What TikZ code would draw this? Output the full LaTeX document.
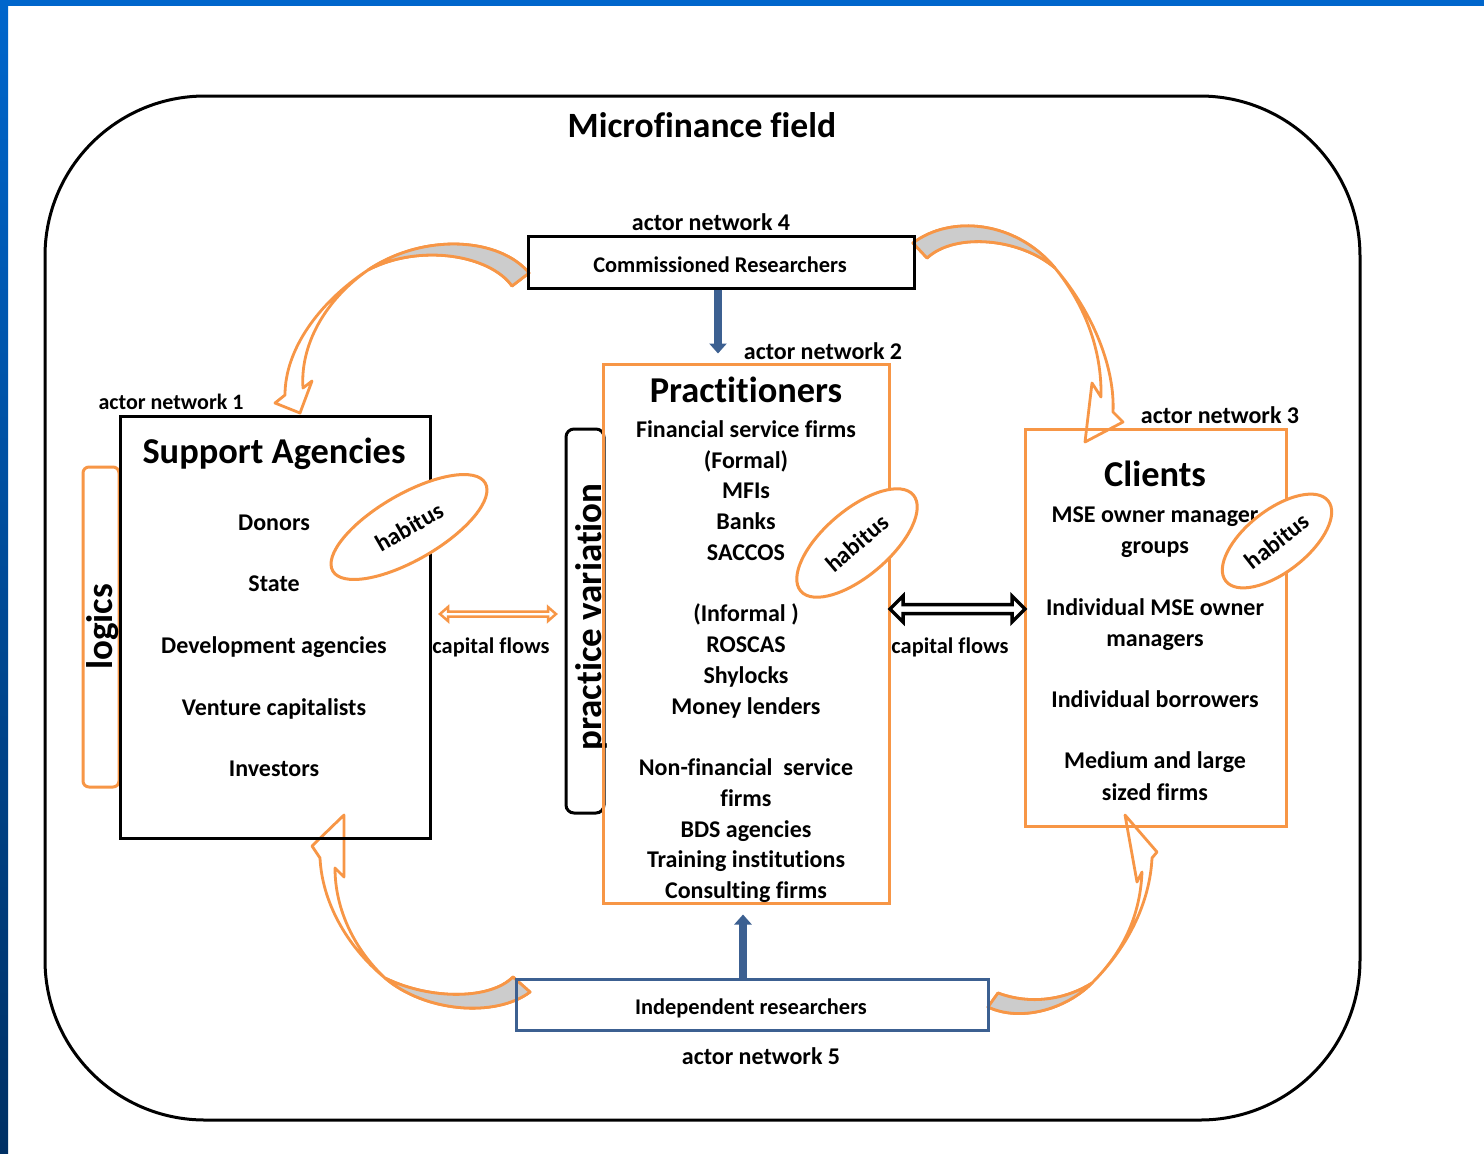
\documentclass[tikz,border=0pt]{standalone}
\usepackage{fontspec}
\setmainfont{Carlito}[Ligatures=NoCommon]
\usetikzlibrary{shapes.geometric,arrows.meta}
\definecolor{orng}{RGB}{247,150,70}
\definecolor{steel}{RGB}{60,96,145}
\definecolor{slideblue}{RGB}{0,102,204}
\definecolor{slidedark}{RGB}{0,48,100}
\definecolor{ribbon}{RGB}{204,204,204}
\begin{document}
\begin{tikzpicture}[x=0.5pt,y=-0.5pt,
  fix/.style={inner sep=0pt, text height=0.8em, text depth=0pt},
  hd/.style={fix, font=\bfseries\fontsize{18.2}{20}\selectfont},
  bd/.style={fix, font=\bfseries\fontsize{12}{14}\selectfont},
  an/.style={fix, font=\bfseries\fontsize{12}{14}\selectfont},
  sm/.style={fix, font=\bfseries\fontsize{11.2}{13}\selectfont},
  vert/.style={inner sep=0pt, rotate=90, font=\bfseries\fontsize{18.5}{20}\selectfont},
  boxk/.style={draw=black, line width=1.5pt, inner sep=0pt},
  boxo/.style={draw=orng, line width=1.5pt, inner sep=0pt},
  hab/.style={ellipse, draw=orng, fill=white, line width=1.5pt, inner sep=1pt, font=\bfseries\fontsize{12}{14}\selectfont},
  cva/.style={fill=white, draw=orng, line width=1.4pt, line join=round},
  cvg/.style={fill=ribbon, draw=orng, line width=1.4pt, line join=round},
  bluearr/.style={draw=steel, line width=3.6pt, -{Triangle[width=8.5pt,length=5pt]}}]
\useasboundingbox (0,0) rectangle (1484,1153);
\fill[white] (0,0) rectangle (1484,1153);
\fill[slideblue] (0,0) rectangle (1484,6);
\shade[top color=slideblue, bottom color=slidedark] (0,0) rectangle (8,1153);

% field frame
\draw[line width=1.5pt, rounded corners=80pt] (45,96) rectangle (1360,1120);
\node[fix, font=\bfseries\fontsize{17.8}{20}\selectfont] (title) at (702,129) {Microfinance field};

% curved arrows
\path[cva] (512,286) -- (529,273) .. controls (500,238) and (425,232) .. (368,270) .. controls (318,303) and (285,350) .. (285,395) -- (275,403) -- (300,413) -- (312,381) -- (303,388) .. controls (300,345) and (325,300) .. (368,270) .. controls (420,243) and (490,255) .. (512,286) -- cycle;
\path[cvg] (529,273) .. controls (500,238) and (425,232) .. (368,270) .. controls (420,243) and (490,255) .. (512,286) -- cycle;

\path[cva] (913,243) .. controls (950,215) and (1015,220) .. (1055,268) .. controls (1095,315) and (1115,370) .. (1113,412) -- (1123,422) -- (1085,442) -- (1092,383) -- (1101,397) .. controls (1102,350) and (1085,305) .. (1055,268) .. controls (1020,238) and (955,232) .. (927,258) -- cycle;
\path[cvg] (913,243) .. controls (950,215) and (1015,220) .. (1055,268) .. controls (1020,238) and (955,232) .. (927,258) -- cycle;

\path[cva] (530,992) .. controls (495,1018) and (425,1012) .. (385,978) .. controls (345,945) and (322,900) .. (320,858) -- (312,846) -- (344,815) -- (344,877) -- (335,868) .. controls (335,910) and (355,950) .. (385,978) .. controls (430,1000) and (490,1000) .. (513,977) -- cycle;
\path[cvg] (530,992) .. controls (495,1018) and (425,1012) .. (385,978) .. controls (430,1000) and (490,1000) .. (513,977) -- cycle;

\path[cva] (988,1007) .. controls (1020,1022) and (1065,1010) .. (1092,983) .. controls (1130,945) and (1150,900) .. (1152,858) -- (1157,852) -- (1125,815) -- (1137,882) -- (1142,872) .. controls (1140,920) and (1120,955) .. (1092,983) .. controls (1065,1000) and (1030,1005) .. (998,993) -- cycle;
\path[cvg] (988,1007) .. controls (1020,1022) and (1065,1010) .. (1092,983) .. controls (1065,1000) and (1030,1005) .. (998,993) -- cycle;

% researcher boxes
\node[boxk, minimum width=193pt, minimum height=26pt] (cr) at (721,262) {};
\node[sm] (crt) at (720,264) {Commissioned Researchers};
\node[an] (an4) at (711,222) {actor network 4};
\node[draw=steel, line width=1.5pt, inner sep=0pt, minimum width=236pt, minimum height=25.5pt] (ir) at (752.5,1004.5) {};
\node[sm] (irt) at (751,1006) {Independent researchers};
\node[an] (an5) at (761,1056) {actor network 5};

% support agencies
\node[boxo, rounded corners=3pt, minimum width=18pt, minimum height=160pt] (lg) at (101,627) {};
\node[vert] (lgt) at (103,627) {logics};
\node[boxk, minimum width=155pt, minimum height=211pt] (sa) at (275,627) {};
\node[fix, font=\bfseries\fontsize{11}{13}\selectfont] (an1) at (171,401) {actor network 1};
\node[hd] (sah) at (274,455) {Support Agencies};
\foreach \t/\yy [count=\i] in {Donors/522, State/583, Development agencies/645, Venture capitalists/707, Investors/768}
  \node[bd] (sa\i) at (274,\yy) {\t};

% practitioners
\node[boxk, rounded corners=4pt, minimum width=19pt, minimum height=192pt] (pv) at (585,621) {};
\node[vert] (pvt) at (591,617) {practice variation};
\node[boxo, minimum width=143pt, minimum height=269.5pt] (pr) at (746,633.5) {};
\node[an] (an2) at (823,351) {actor network 2};
\node[hd] (prh) at (746,394) {Practitioners};
\foreach \t/\yy [count=\i] in {Financial service firms/429, {(Formal)}/460, MFIs/490, Banks/521, SACCOS/552, {(Informal )}/613, ROSCAS/644, Shylocks/675, Money lenders/706, {Non-financial\ \ service}/767, firms/798, BDS agencies/829, Training institutions/859, Consulting firms/890}
  \node[bd] (pr\i) at (746,\yy) {\t};

% clients
\node[boxo, minimum width=130.5pt, minimum height=198.5pt] (cl) at (1155.5,627.5) {};
\node[an] (an3) at (1220,415) {actor network 3};
\node[hd] (clh) at (1155,478) {Clients};
\foreach \t/\yy [count=\i] in {MSE owner manager/514, groups/545, Individual MSE owner/607, managers/638, Individual borrowers/699, Medium and large/760, sized firms/792}
  \node[bd] (cl\i) at (1155,\yy) {\t};

% habitus
\node[hab, minimum width=88pt, minimum height=33pt, rotate=30] (hab1) at (409,527) {habitus};
\node[hab, minimum width=74pt, minimum height=33pt, rotate=40.5] (hab2) at (857,543) {habitus};
\node[hab, minimum width=65pt, minimum height=31pt, rotate=38] (hab3) at (1277,541) {habitus};

% blue arrows
\coordinate (ta) at (718,0);
\coordinate (tb) at (743,0);
\draw[bluearr, shorten >=4.5pt] (cr.south -| ta) -- (pr.north -| ta);
\draw[bluearr, shorten >=5pt] (ir.north -| tb) -- (pr.south -| tb);

% capital flows
\path[fill=white, draw=orng, line width=1.25pt, line join=miter] (440,614) -- (448,607) -- (448,611.5) -- (548,611.5) -- (548,607) -- (556,614) -- (548,621) -- (548,616.5) -- (448,616.5) -- (448,621) -- cycle;
\node[sm] (cf1) at (491,645) {capital flows};
\path[fill=white, draw=black, line width=1.75pt, line join=miter] (890,609) -- (903,596) -- (903,604.5) -- (1012,604.5) -- (1012,596) -- (1025,609) -- (1012,622) -- (1012,613.5) -- (903,613.5) -- (903,622) -- cycle;
\node[sm] (cf2) at (950,645) {capital flows};
\end{tikzpicture}
\end{document}
